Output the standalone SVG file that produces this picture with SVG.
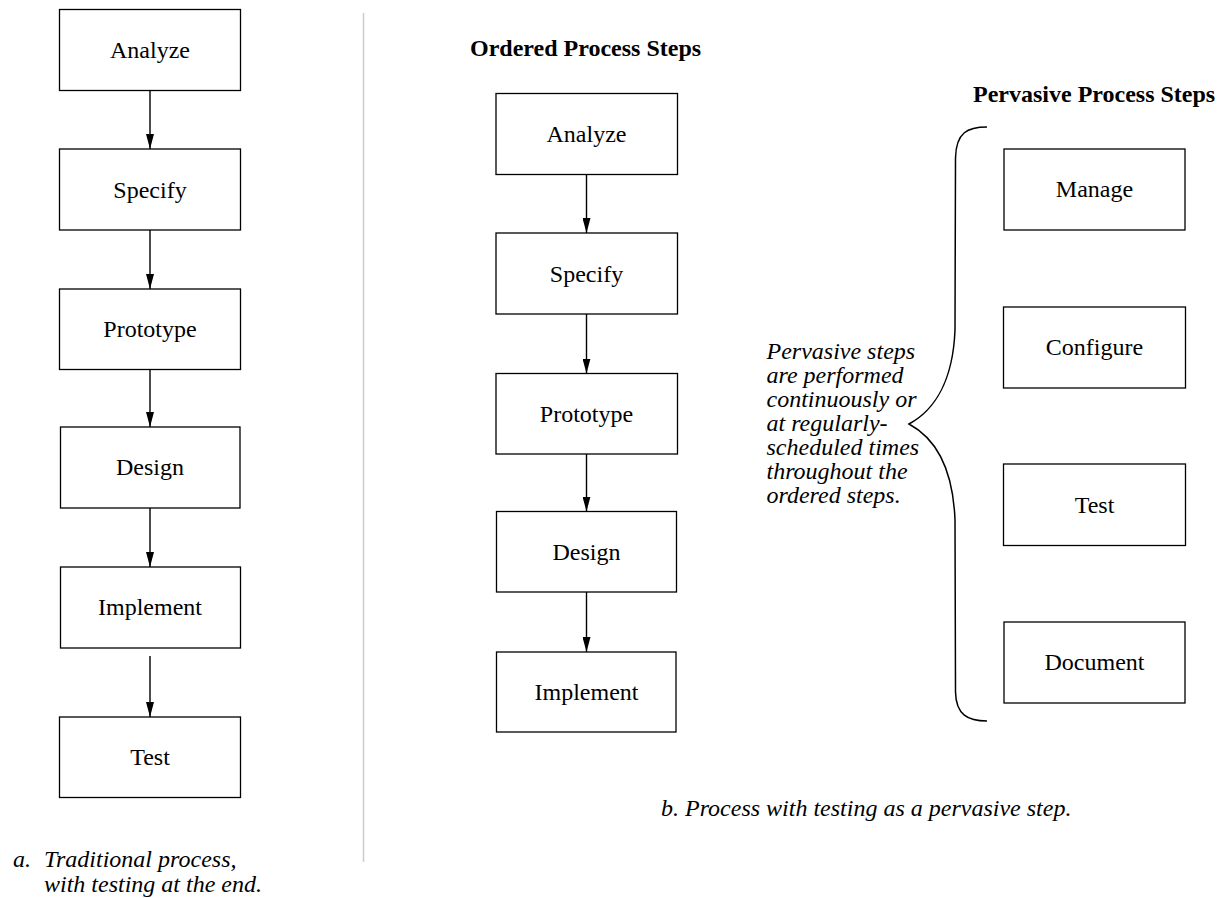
<svg xmlns="http://www.w3.org/2000/svg" width="1225" height="898" viewBox="0 0 1225 898">
<style>
  .box { fill: #fff; stroke: #000; stroke-width: 1.3; }
  .lbl { font-family: "Liberation Serif", "Times New Roman", serif; font-size: 24px; fill: #000; text-anchor: middle; }
  .hdr { font-family: "Liberation Serif", "Times New Roman", serif; font-size: 24px; font-weight: bold; fill: #000; }
  .it { font-family: "Liberation Serif", "Times New Roman", serif; font-size: 24px; font-style: italic; fill: #000; }
  .conn { stroke: #000; stroke-width: 1.4; fill: none; marker-end: url(#arr); }
</style>
<defs>
  <marker id="arr" viewBox="0 0 15 8" refX="15" refY="4" markerWidth="15" markerHeight="8" orient="auto" markerUnits="userSpaceOnUse">
    <path d="M0,0 L15,4 L0,8 Z" fill="#000"/>
  </marker>
</defs>
<rect width="1225" height="898" fill="#fff"/>

<!-- divider -->
<line x1="363.5" y1="13" x2="363.5" y2="862" stroke="#cccccc" stroke-width="1.5"/>

<!-- Left column (a) -->
<g id="a-analyze"><rect class="box" x="59.5" y="9.5" width="181" height="81"/><text class="lbl" x="150" y="58">Analyze</text></g>
<g id="a-specify"><rect class="box" x="59.5" y="149" width="181" height="81"/><text class="lbl" x="150" y="197.5">Specify</text></g>
<g id="a-prototype"><rect class="box" x="59.5" y="289" width="181" height="80.5"/><text class="lbl" x="150" y="337">Prototype</text></g>
<g id="a-design"><rect class="box" x="60.5" y="427" width="179.5" height="81"/><text class="lbl" x="150" y="475">Design</text></g>
<g id="a-implement"><rect class="box" x="60.5" y="567" width="180" height="81"/><text class="lbl" x="150" y="615">Implement</text></g>
<g id="a-test"><rect class="box" x="59.5" y="717" width="181" height="80.5"/><text class="lbl" x="150" y="765">Test</text></g>

<!-- Middle column (b ordered) -->
<text class="hdr" x="470" y="56">Ordered Process Steps</text>
<g id="b-analyze"><rect class="box" x="496" y="93.5" width="181.5" height="81"/><text class="lbl" x="586.5" y="142">Analyze</text></g>
<g id="b-specify"><rect class="box" x="496" y="233" width="181.5" height="81"/><text class="lbl" x="586.5" y="281.5">Specify</text></g>
<g id="b-prototype"><rect class="box" x="496" y="373.5" width="181.5" height="80.5"/><text class="lbl" x="586.5" y="421.5">Prototype</text></g>
<g id="b-design"><rect class="box" x="496.5" y="511.5" width="180" height="80.5"/><text class="lbl" x="586.5" y="559.5">Design</text></g>
<g id="b-implement"><rect class="box" x="496.5" y="652" width="179.5" height="80"/><text class="lbl" x="586.5" y="699.5">Implement</text></g>

<!-- Right column (pervasive) -->
<text class="hdr" x="973" y="101.5">Pervasive Process Steps</text>
<g id="p-manage"><rect class="box" x="1004" y="149" width="181" height="81"/><text class="lbl" x="1094.5" y="197">Manage</text></g>
<g id="p-configure"><rect class="box" x="1003.5" y="307" width="182" height="81"/><text class="lbl" x="1094.5" y="355">Configure</text></g>
<g id="p-test"><rect class="box" x="1003.5" y="464" width="182" height="81.5"/><text class="lbl" x="1094.5" y="512.5">Test</text></g>
<g id="p-document"><rect class="box" x="1004" y="622" width="181" height="81"/><text class="lbl" x="1094.5" y="670">Document</text></g>

<!-- brace and note -->
<g id="brace">
  <path d="M987,127 C968,127 956,132 955.5,158 L955,330 C953,380 935,410 909,424 C935,438 953,468 955,520 L955.5,692 C956,715 968,721 987,721" fill="none" stroke="#000" stroke-width="1.5"/>
</g>
<g id="note">
  <text class="it" x="766.5" y="358.5">Pervasive steps</text>
  <text class="it" x="766.5" y="382.5">are performed</text>
  <text class="it" x="766.5" y="406.5">continuously or</text>
  <text class="it" x="766.5" y="430.5">at regularly-</text>
  <text class="it" x="766.5" y="454.5">scheduled times</text>
  <text class="it" x="766.5" y="478.5">throughout the</text>
  <text class="it" x="766.5" y="502.5">ordered steps.</text>
</g>

<!-- captions -->
<g id="caption-a">
  <text class="it" x="13" y="867">a.</text>
  <text class="it" x="44" y="867">Traditional process,</text>
  <text class="it" x="44" y="891.5">with testing at the end.</text>
</g>
<g id="caption-b">
  <text class="it" x="661" y="816">b. Process with testing as a pervasive step.</text>
</g>

<!-- connectors -->
<g id="connectors">
  <line class="conn" x1="150" y1="90.5" x2="150" y2="149"/>
  <line class="conn" x1="150" y1="230" x2="150" y2="289"/>
  <line class="conn" x1="150" y1="369.5" x2="150" y2="427"/>
  <line class="conn" x1="150" y1="508" x2="150" y2="567"/>
  <line class="conn" x1="150" y1="656" x2="150" y2="717"/>
  <line class="conn" x1="586.5" y1="174.5" x2="586.5" y2="233"/>
  <line class="conn" x1="586.5" y1="314" x2="586.5" y2="373.5"/>
  <line class="conn" x1="586.5" y1="454" x2="586.5" y2="511.5"/>
  <line class="conn" x1="586.5" y1="592" x2="586.5" y2="652"/>
</g>
</svg>
